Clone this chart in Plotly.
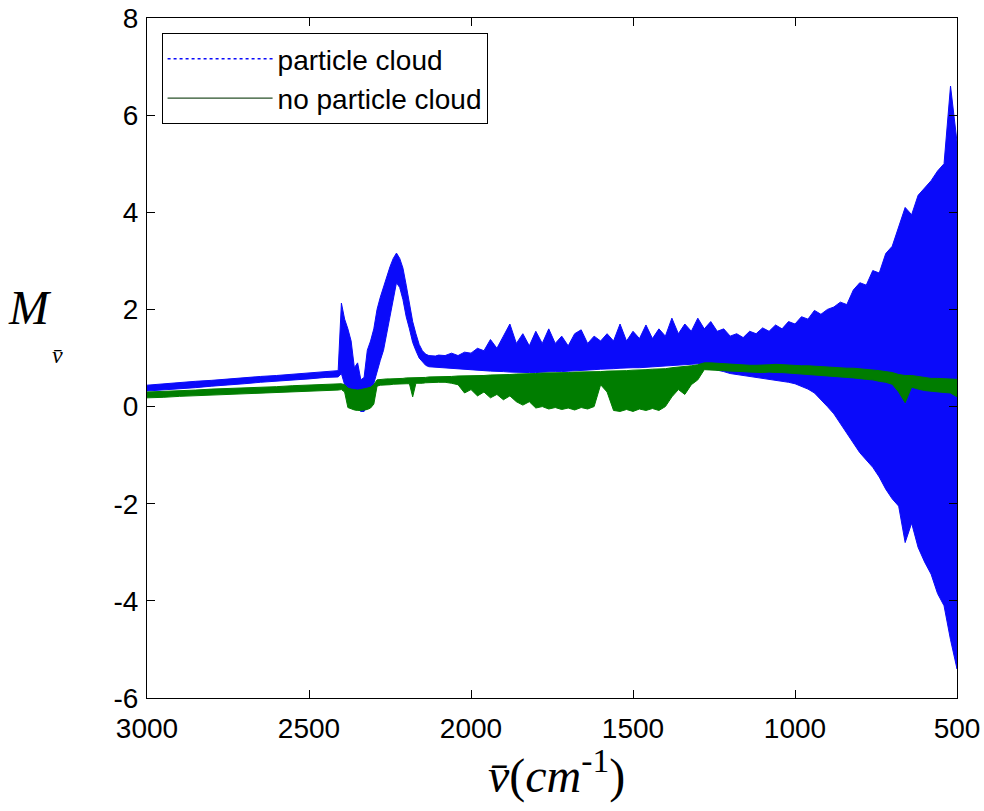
import plotly.graph_objects as go

# Wavenumber sampling grid (cm^-1), coarse where the spectra are smooth
wavenumber = list(range(3000, 2400, -50)) + list(range(2410, 2100, -10)) + list(range(2100, 499, -20))

# "particle cloud" spectrum: upper / lower envelope of the oscillating trace
cloud_upper = [
    0.44, 0.47, 0.49, 0.52, 0.54, 0.57, 0.59, 0.62, 0.64, 0.67, 0.69, 0.72,
    0.74,
    2.13, 1.80, 1.60, 1.35, 0.80, 0.90, 0.55, 0.60, 1.16, 1.35,
    1.60, 2.00, 2.25, 2.47, 2.70, 2.88, 3.05, 3.16, 3.05, 2.85,
    2.50, 2.15, 1.75, 1.50, 1.28, 1.15, 1.08, 1.05, 1.05, 1.04,
    1.06, 1.05, 1.10, 1.05, 1.12, 1.10, 1.20, 1.15, 1.38, 1.20,
    1.45, 1.70, 1.30, 1.50, 1.25, 1.55, 1.30, 1.60, 1.30, 1.45,
    1.25, 1.50, 1.58, 1.30, 1.45, 1.35, 1.50, 1.35, 1.70, 1.35,
    1.55, 1.40, 1.68, 1.40, 1.60, 1.45, 1.82, 1.50, 1.70, 1.55,
    1.82, 1.60, 1.75, 1.55, 1.60, 1.45, 1.50, 1.42, 1.55, 1.50,
    1.62, 1.55, 1.68, 1.60, 1.75, 1.70, 1.85, 1.80, 1.98, 1.90,
    2.00, 2.05, 2.15, 2.10, 2.40, 2.55, 2.50, 2.80, 2.75, 3.15,
    3.30, 3.70, 4.10, 3.95, 4.35, 4.50, 4.65, 4.85, 5.00, 6.60,
    5.45,
]
cloud_lower = [
    0.32, 0.35, 0.37, 0.39, 0.42, 0.45, 0.47, 0.50, 0.52, 0.55, 0.57, 0.60,
    0.61,
    0.68, 0.45, 0.30, 0.10, 0.00, -0.05, -0.10, -0.10, 0.00, 0.25,
    0.45, 0.70, 0.95, 1.16, 1.50, 1.85, 2.20, 2.55, 2.45, 2.20,
    1.85, 1.60, 1.32, 1.15, 1.00, 0.92, 0.85, 0.82, 0.82, 0.82,
    0.82, 0.80, 0.80, 0.79, 0.78, 0.76, 0.75, 0.74, 0.73, 0.72,
    0.72, 0.71, 0.70, 0.70, 0.70, 0.70, 0.70, 0.71, 0.72, 0.72,
    0.73, 0.74, 0.74, 0.75, 0.76, 0.77, 0.78, 0.78, 0.79, 0.80,
    0.80, 0.80, 0.81, 0.82, 0.82, 0.83, 0.84, 0.85, 0.86, 0.87,
    0.88, 0.85, 0.80, 0.75, 0.72, 0.68, 0.66, 0.64, 0.62, 0.60,
    0.58, 0.57, 0.55, 0.52, 0.50, 0.47, 0.42, 0.36, 0.28, 0.15,
    0.00, -0.15, -0.35, -0.55, -0.75, -0.95, -1.10, -1.25, -1.45, -1.70,
    -1.90, -2.05, -2.80, -2.40, -2.90, -3.20, -3.45, -3.85, -4.10, -4.80,
    -5.40,
]

# "no particle cloud" spectrum: upper / lower envelope
clear_upper = [
    0.30, 0.31, 0.33, 0.34, 0.36, 0.37, 0.38, 0.40, 0.41, 0.43, 0.44, 0.45,
    0.46,
    0.47, 0.45, 0.38, 0.36, 0.35, 0.34, 0.35, 0.36, 0.38, 0.40,
    0.45, 0.55, 0.56, 0.56, 0.57, 0.57, 0.57, 0.58, 0.58, 0.58,
    0.59, 0.59, 0.59, 0.59, 0.60, 0.60, 0.60, 0.61, 0.61, 0.61,
    0.62, 0.62, 0.62, 0.63, 0.63, 0.63, 0.64, 0.64, 0.65, 0.65,
    0.66, 0.66, 0.67, 0.67, 0.68, 0.68, 0.69, 0.69, 0.70, 0.70,
    0.70, 0.71, 0.71, 0.71, 0.72, 0.72, 0.73, 0.73, 0.74, 0.74,
    0.75, 0.75, 0.76, 0.77, 0.77, 0.78, 0.80, 0.81, 0.82, 0.84,
    0.86, 0.90, 0.90, 0.89, 0.88, 0.87, 0.86, 0.86, 0.85, 0.85,
    0.85, 0.86, 0.87, 0.86, 0.86, 0.85, 0.84, 0.84, 0.83, 0.83,
    0.82, 0.81, 0.80, 0.79, 0.79, 0.78, 0.77, 0.76, 0.74, 0.72,
    0.70, 0.66, 0.64, 0.64, 0.62, 0.60, 0.58, 0.58, 0.57, 0.56,
    0.56,
]
clear_lower = [
    0.18, 0.19, 0.21, 0.22, 0.24, 0.25, 0.26, 0.28, 0.29, 0.30, 0.32, 0.33,
    0.34,
    0.35, 0.30, -0.02, -0.05, -0.07, -0.08, -0.08, -0.07, -0.06, -0.03,
    0.05, 0.42, 0.44, 0.44, 0.45, 0.45, 0.46, 0.46, 0.46, 0.47,
    0.47, 0.47, 0.20, 0.48, 0.48, 0.48, 0.49, 0.49, 0.49, 0.50,
    0.50, 0.50, 0.48, 0.45, 0.28, 0.35, 0.22, 0.30, 0.18, 0.25,
    0.14, 0.22, 0.10, 0.03, 0.10, -0.03, 0.00, -0.05, -0.02, -0.06,
    -0.03, -0.07, -0.02, -0.05, 0.00, 0.45, 0.30, -0.08, -0.10, -0.06,
    -0.10, -0.05, -0.08, -0.04, -0.08, 0.00, 0.20, 0.35, 0.25, 0.45,
    0.55, 0.76, 0.76, 0.75, 0.74, 0.73, 0.72, 0.72, 0.71, 0.70,
    0.70, 0.71, 0.70, 0.70, 0.69, 0.69, 0.68, 0.67, 0.66, 0.65,
    0.64, 0.62, 0.61, 0.60, 0.59, 0.58, 0.56, 0.55, 0.52, 0.50,
    0.46, 0.30, 0.08, 0.40, 0.36, 0.33, 0.32, 0.30, 0.29, 0.28,
    0.20,
]

series_names = ["particle cloud", "no particle cloud"]
x_ticks = [3000, 2500, 2000, 1500, 1000, 500]
y_ticks = [-6, -4, -2, 0, 2, 4, 6, 8]

BLUE = "rgb(10,10,250)"
GREEN = "rgb(0,125,0)"
SANS = "Arial, Liberation Sans, Helvetica, sans-serif"
SERIF = "Times New Roman, Liberation Serif, serif"

fig = go.Figure()

def band(xs, up, lo, color, name):
    return go.Scatter(
        x=xs + xs[::-1], y=up + lo[::-1], mode="lines", fill="toself",
        fillcolor=color, line=dict(color=color, width=1),
        showlegend=False, hoverinfo="skip", name=name,
    )

fig.add_trace(band(wavenumber, cloud_upper, cloud_lower, BLUE, series_names[0]))
fig.add_trace(band(wavenumber, clear_upper, clear_lower, GREEN, series_names[1]))

# legend entries
fig.add_trace(go.Scatter(x=[None], y=[None], mode="lines", name=series_names[0],
                         line=dict(color=BLUE, width=1.5, dash="dot")))
fig.add_trace(go.Scatter(x=[None], y=[None], mode="lines", name=series_names[1],
                         line=dict(color="rgb(40,80,40)", width=1.2)))

axis_common = dict(
    showline=True, linecolor="black", linewidth=1, mirror="ticks",
    ticks="inside", ticklen=8, tickcolor="black", showgrid=False, zeroline=False,
    tickfont=dict(family=SANS, size=28, color="black"), automargin=False,
)
fig.update_xaxes(range=[3000, 500], tickvals=x_ticks,
                 ticktext=[str(v) for v in x_ticks], ticklabelstandoff=5, **axis_common)
fig.update_yaxes(range=[-6, 8], tickvals=y_ticks,
                 ticktext=[str(v) for v in y_ticks], ticklabelstandoff=2, **axis_common)

fig.update_layout(
    width=984, height=811,
    margin=dict(l=147, r=27, t=18, b=113, autoexpand=False),
    paper_bgcolor="white", plot_bgcolor="white",
    legend=dict(
        x=0.018, y=0.978, xanchor="left", yanchor="top",
        bgcolor="white", bordercolor="black", borderwidth=1,
        font=dict(family=SANS, size=28, color="black"),
        itemwidth=105, tracegroupgap=0,
    ),
    annotations=[
        dict(text="<i>v\u0304</i>(<i>cm</i><sup>-1</sup>)", xref="paper", yref="paper",
             x=0.506, y=-0.11, xanchor="center", yanchor="middle", showarrow=False,
             font=dict(family=SERIF, size=48, color="black")),
        dict(text="<i>M</i>", xref="paper", yref="paper",
             x=-0.1444, y=0.574, xanchor="center", yanchor="middle", showarrow=False,
             font=dict(family=SERIF, size=48, color="black")),
        dict(text="<i>v\u0304</i>", xref="paper", yref="paper",
             x=-0.111, y=0.505, xanchor="center", yanchor="middle", showarrow=False,
             font=dict(family=SERIF, size=24, color="black")),
    ],
)

fig.write_html("out.html")
